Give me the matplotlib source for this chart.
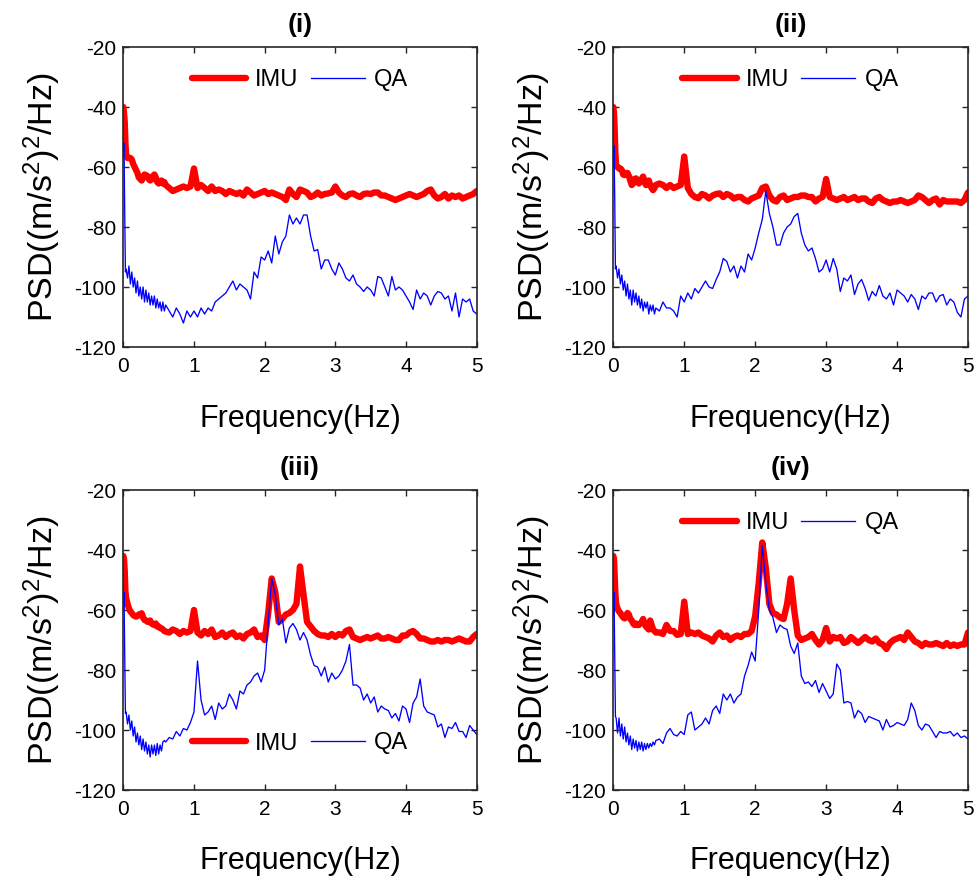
import numpy as np
import matplotlib
matplotlib.use("Agg")
import matplotlib.pyplot as plt

plt.rcParams['font.family'] = ['Liberation Sans', 'DejaVu Sans']
plt.rcParams['mathtext.fontset'] = 'custom'
plt.rcParams['mathtext.rm'] = 'Liberation Sans'
plt.rcParams['mathtext.default'] = 'regular'
plt.rcParams['axes.unicode_minus'] = False

# frequency bins (Hz): fine near 0 Hz, then 0.05 Hz steps
freq = np.round(np.concatenate([
    [0.0, 0.01, 0.02, 0.03],
    np.arange(0.04, 0.6001, 0.02),
    np.arange(0.65, 5.0001, 0.05)]), 3)

titles = ['(i)', '(ii)', '(iii)', '(iv)']
series_names = ['IMU', 'QA']
x_ticks = [0, 1, 2, 3, 4, 5]
y_ticks = [-120, -100, -80, -60, -40, -20]

imu_1 = [-40, -42, -45, -52,
         -56, -57, -57, -57, -57.5, -59, -60, -61, -62, -63.5, -64, -64.5, -63.5, -62.5, -62.7,
         -63, -64, -64.5, -64, -63, -62.5, -63.5, -65, -65.5, -65, -64.5, -65.5, -65, -66,
         -67, -68, -67.5, -67, -66.5, -67, -66.5, -60.5, -67, -66,
         -67, -68, -66.5, -68, -67.5, -68, -69, -68, -68.5, -69,
         -68.5, -69.5, -67.5, -68.5, -69.5, -69, -68.5, -68, -69, -68.5,
         -69, -69.5, -70, -71, -67.5, -69, -70, -67.5, -68, -68.5,
         -70, -69.5, -68.5, -69.5, -69, -68.8, -68.5, -66.5, -68.5, -69.5,
         -70, -69, -68.8, -69.5, -70, -69, -68.8, -69, -68.5, -68.5,
         -69.5, -69.5, -70, -70.5, -71, -70.5, -70, -69.5, -69, -69.5,
         -70, -69.5, -69, -68, -67.5, -69.5, -70.5, -70, -69, -70.5,
         -69.5, -70, -69.5, -70.5, -70, -69.5, -69, -68]

qa_1 = [-55, -52, -75, -95,
        -94, -97, -93, -99, -95, -100, -97, -102, -98, -103, -100, -104, -100, -105, -101,
        -105, -102, -106, -103, -106, -103, -107, -104, -107, -105, -108, -105, -108, -106,
        -108, -110, -107, -109, -112, -108, -110, -108, -110, -107,
        -109, -107, -108, -105, -104, -103, -102, -100, -98, -101,
        -99, -100, -101, -104, -95, -97, -90, -91, -88, -92,
        -83, -89, -85, -83, -76, -79, -77, -79, -76, -76,
        -83, -88, -87.5, -94, -91, -91, -94, -96, -92, -94,
        -97, -98, -96, -99, -100, -101.5, -100, -101, -103, -96.5,
        -97, -100, -103, -96.5, -101, -100, -101, -103, -105, -107.5,
        -101, -104, -102, -103, -106, -103, -101.5, -102, -104, -103,
        -108, -102, -110, -104, -105, -104, -108, -109]

imu_2 = [-40, -42, -48, -56,
         -59.5, -60, -60.5, -60.5, -61, -62.5, -62.7, -62, -62, -63, -64.5, -66, -65.5, -64,
         -63.8, -64.5, -65.5, -65, -64, -63.2, -64.5, -66, -65, -64.5, -66, -67, -67.7, -67, -66,
         -65.5, -66, -67, -66, -67, -66.5, -66, -56.5, -67, -69,
         -70, -70.4, -69, -69.5, -70.5, -69.5, -69, -68.8, -70, -69,
         -69.5, -70.5, -70, -70, -71, -71.5, -70.5, -70, -69.5, -67,
         -66.5, -69.5, -71, -71.5, -70, -69.5, -71, -70.5, -70, -70,
         -69.5, -69.5, -70, -70, -71.5, -70.5, -70, -64, -70, -70.5,
         -71, -70.5, -70, -71, -70.5, -70, -71, -70.5, -70.5, -71.5,
         -72, -70.5, -70, -71, -71.5, -72, -71.5, -71.5, -71, -71.5,
         -72, -71.5, -71, -69.5, -70, -71, -72, -71, -70.5, -72.5,
         -71, -71.5, -71.5, -71.5, -71.5, -72, -71, -68.5]

qa_2 = [-60, -53, -70, -94,
        -93, -97, -94, -99, -96, -101, -98, -103, -99, -104, -101, -106, -101, -105, -102,
        -106, -103, -107, -104, -108, -105, -107, -105, -109, -106, -108, -106, -109, -107,
        -108, -105, -107, -107, -108, -110, -103, -105, -102, -104,
        -100.5, -102, -100, -98, -100, -100.5, -97.5, -95, -90.5, -91.5,
        -95, -93, -97, -93, -95, -89, -91, -87, -82, -77.5,
        -68, -75.5, -80, -86, -86, -82, -80, -79, -76.5, -75.5,
        -82, -86, -88, -87, -90.5, -95, -94, -91, -95, -90.5,
        -94, -101.5, -97, -98, -96, -102.5, -99, -97.5, -100.5, -104.5,
        -101.5, -103, -99.5, -103, -104, -102, -106, -101, -102, -103,
        -105, -102.5, -104, -107.5, -103, -104, -102, -102, -105, -103,
        -102.5, -106, -104, -105, -108.5, -110, -104, -103]

imu_3 = [-42, -43, -47, -54,
         -56, -58, -59.5, -60.5, -61, -61.7, -62, -62.2, -62, -61.5, -61.5, -61.1, -62.5,
         -63.3, -63.5, -63.9, -64, -63.5, -64.5, -64.8, -65, -64.5, -65.5, -65.5, -66, -66.1,
         -66.5, -67, -67.2,
         -67.5, -66.5, -67, -68, -67, -67.5, -67, -60, -67.5, -68.5,
         -67, -68, -66.5, -69, -68.5, -67.5, -69, -68, -67.5, -69,
         -68.5, -69.5, -68, -67.5, -66.5, -69, -68.5, -70, -61, -49.5,
         -54, -64, -63, -61.5, -61, -60, -58, -45.5, -55, -64,
         -65.5, -67, -68, -68.5, -68.5, -69, -68, -69, -68, -68.5,
         -67, -66.5, -69, -69.5, -70, -69.5, -69, -69.5, -69, -68.5,
         -69.5, -69.5, -69, -69.5, -70, -70, -68.5, -68.5, -67.5, -67,
         -68, -69.5, -69.5, -70, -70.5, -70.5, -70, -70.5, -70, -70,
         -70.5, -70, -69.5, -70, -70.5, -70.5, -69, -68]

qa_3 = [-60, -54, -75, -94.5,
        -94, -98, -95, -100, -97, -102, -99, -104, -101, -105, -102, -106.5, -103, -107, -104,
        -108, -105, -109, -105, -108, -105, -108.5, -104.5, -108, -105, -107, -104, -103.5, -104,
        -102.5, -103, -100.5, -102, -99.5, -100, -97.5, -94, -77, -90,
        -95, -94, -92, -96.5, -91, -93, -92, -88, -90, -93,
        -87, -88, -85, -84, -82, -81, -84, -80, -64, -49.5,
        -55, -65, -63, -71, -66, -64.5, -66.5, -70, -67.5, -70,
        -75, -78.5, -79, -82, -79, -84, -81, -83, -82, -80,
        -77, -71.5, -85, -85, -86, -90, -88, -91, -89, -94,
        -92, -93, -93.5, -96, -94.5, -97, -92, -93, -97.5, -91,
        -89, -83, -92, -94, -94.5, -95, -99, -98, -102.5, -99,
        -99.5, -97.5, -100.5, -100.5, -102.5, -98.5, -100, -101.5]

imu_4 = [-42, -43, -49, -55,
         -58, -59.5, -60.5, -61, -61.8, -62.5, -62.8, -62, -61, -61.5, -63, -63.5, -64.5, -65,
         -64.5, -65, -65, -64.5, -64, -63, -64.5, -65.5, -66, -66.5, -63.5, -65, -66.5, -67, -67.5,
         -67.5, -68, -65, -67, -67, -68.3, -68, -57.2, -68, -67.5,
         -68, -67.5, -68.5, -69, -69.5, -70.5, -68.5, -67.5, -69, -68.5,
         -70, -69, -68.5, -69, -68, -68, -67, -62, -51, -37.5,
         -46, -58, -61, -61.5, -62.5, -63, -58, -49.5, -60, -68.5,
         -70, -69.5, -69, -68, -70, -71.5, -70, -66, -70.5, -69,
         -69.5, -69, -71, -70.5, -69, -70, -71, -70, -69, -70,
         -70.5, -69.5, -71, -71.5, -73, -71, -70, -69.5, -69, -70,
         -67.5, -69, -70.5, -71, -72, -71, -71.5, -71.5, -71, -71.5,
         -72, -71, -72, -71.5, -72, -71.5, -71.5, -67.5]

qa_4 = [-62, -54, -75, -95.5,
        -96, -101, -96, -102, -98, -103, -99, -104, -101, -105, -102, -106.5, -103, -106, -103.5,
        -107, -104, -106.5, -104, -107, -104.5, -106.5, -104.5, -106, -104.5, -105.5, -104, -105,
        -103.5,
        -103, -104.5, -101, -99.5, -101.5, -102, -100.5, -101.5, -95, -94,
        -100, -99, -98, -96, -98, -93.5, -92, -94.5, -88, -90,
        -88, -91, -89, -88, -82, -78.5, -74, -77, -60, -38.5,
        -51, -60, -62.5, -67.5, -65, -66, -66.5, -72, -74.5, -71,
        -82, -84.5, -84, -85.5, -83.5, -87.5, -84.5, -87, -89.5, -88,
        -78, -80, -91, -90.5, -91, -96, -93.5, -94.5, -97.5, -95.5,
        -96, -96.5, -97, -100, -96.5, -99, -98.5, -97.5, -98, -98.5,
        -96.5, -91, -93.5, -98.5, -100, -98, -98.5, -100.5, -102.5, -100.5,
        -101, -101, -100.5, -102, -101, -102.5, -102, -103]

imu_all = [imu_1, imu_2, imu_3, imu_4]
qa_all = [qa_1, qa_2, qa_3, qa_4]
for s in imu_all + qa_all:
    assert len(s) == len(freq), (len(s), len(freq))

W, H = 979, 881
fig = plt.figure(figsize=(W / 100, H / 100), dpi=100)

positions = [
    [123.3 / W, 1 - 347 / H, 353.4 / W, 300 / H],
    [613.3 / W, 1 - 347 / H, 354.7 / W, 300 / H],
    [123.3 / W, 1 - 790 / H, 353.4 / W, 300 / H],
    [613.3 / W, 1 - 790 / H, 354.7 / W, 300 / H],
]
legend_y = [0.89, 0.89, 0.155, 0.89]

dark = '#262626'
for i in range(4):
    ax = fig.add_axes(positions[i])
    ax.plot(freq, imu_all[i], color='#FF0000', lw=4.6, label=series_names[0],
            solid_joinstyle='round', solid_capstyle='round')
    ax.plot(freq, qa_all[i], color='#0000FF', lw=0.95, label=series_names[1])
    ax.set_xlim(0, 5)
    ax.set_ylim(-120, -20)
    ax.set_xticks(x_ticks)
    ax.set_yticks(y_ticks)
    ax.tick_params(direction='in', length=4, width=1.0, labelsize=15,
                   top=True, right=True, colors=dark, labelcolor='black')
    ax.tick_params(axis='x', pad=7)
    ax.tick_params(axis='y', pad=5)
    for sp in ax.spines.values():
        sp.set_linewidth(1.2)
        sp.set_color(dark)
    ax.set_xlabel('Frequency(Hz)', fontsize=22, labelpad=20)
    ax.set_ylabel(r'PSD((m/s$^2$)$^2$/Hz)', fontsize=24.5, labelpad=8)
    ax.set_title(titles[i], fontsize=19, fontweight='bold', pad=11)
    ax.legend(loc='center', bbox_to_anchor=(0.5, legend_y[i]), ncol=2, frameon=False,
              fontsize=17, handlelength=2.3, columnspacing=0.5, handletextpad=0.4,
              borderpad=0.1)

fig.savefig('out.png', dpi=100)
